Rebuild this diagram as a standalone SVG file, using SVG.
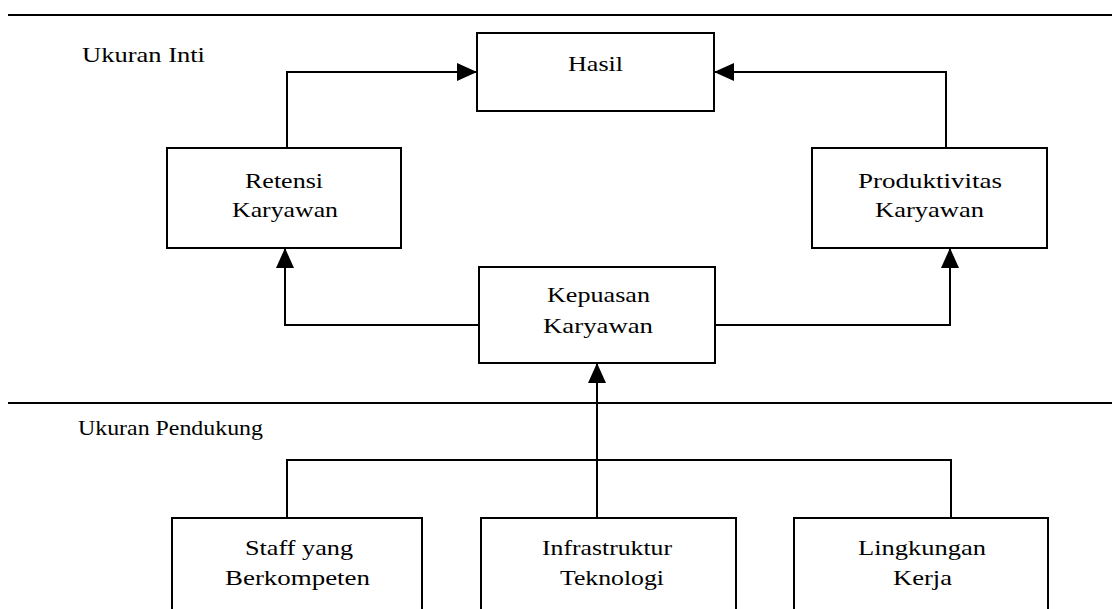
<svg xmlns="http://www.w3.org/2000/svg" width="1115" height="609" viewBox="0 0 1115 609">
<style>
.box{fill:#fff;stroke:#000;stroke-width:2}
.rule{stroke:#000;stroke-width:2}
.ln{fill:none;stroke:#000;stroke-width:2}
text{font-family:"Liberation Serif","Times New Roman",serif;font-size:21px;fill:#000}
</style>
<defs>
<marker id="ah" markerUnits="userSpaceOnUse" markerWidth="20" markerHeight="18" refX="20" refY="9" orient="auto">
<path d="M0,0 L20,9 L0,18 Z" fill="#000"/>
</marker>
</defs>
<rect width="1115" height="609" fill="#fff"/>
<line class="rule" x1="8" y1="15" x2="1112" y2="15"/>
<line class="rule" x1="8" y1="403" x2="1112" y2="403"/>
<text x="82" y="62" textLength="123" lengthAdjust="spacingAndGlyphs">Ukuran Inti</text>
<text x="78" y="435" textLength="185" lengthAdjust="spacingAndGlyphs">Ukuran Pendukung</text>
<g id="connectors">
<polyline class="ln" points="287,148 287,72 477,72" marker-end="url(#ah)"/>
<polyline class="ln" points="946,148 946,72 714,72" marker-end="url(#ah)"/>
<polyline class="ln" points="479,325 285,325 285,248" marker-end="url(#ah)"/>
<polyline class="ln" points="715,325 950,325 950,248" marker-end="url(#ah)"/>
<line class="ln" x1="597" y1="518" x2="597" y2="363" marker-end="url(#ah)"/>
<polyline class="ln" points="287,518 287,460 951,460 951,518"/>
</g>
<g id="hasil">
<rect class="box" x="477" y="33" width="237" height="78"/>
<text x="568" y="71" textLength="55" lengthAdjust="spacingAndGlyphs">Hasil</text>
</g>
<g id="retensi">
<rect class="box" x="167" y="148" width="234" height="100"/>
<text x="245" y="188" textLength="78" lengthAdjust="spacingAndGlyphs">Retensi</text>
<text x="232" y="217" textLength="106" lengthAdjust="spacingAndGlyphs">Karyawan</text>
</g>
<g id="produktivitas">
<rect class="box" x="812" y="148" width="235" height="100"/>
<text x="858" y="188" textLength="144" lengthAdjust="spacingAndGlyphs">Produktivitas</text>
<text x="875" y="217" textLength="109" lengthAdjust="spacingAndGlyphs">Karyawan</text>
</g>
<g id="kepuasan">
<rect class="box" x="479" y="267" width="236" height="96"/>
<text x="547" y="302" textLength="103" lengthAdjust="spacingAndGlyphs">Kepuasan</text>
<text x="543" y="333" textLength="110" lengthAdjust="spacingAndGlyphs">Karyawan</text>
</g>
<g id="staff">
<rect class="box" x="172" y="518" width="250" height="110"/>
<text x="245" y="555" textLength="108" lengthAdjust="spacingAndGlyphs">Staff yang</text>
<text x="225" y="585" textLength="145" lengthAdjust="spacingAndGlyphs">Berkompeten</text>
</g>
<g id="infrastruktur">
<rect class="box" x="481" y="518" width="255" height="110"/>
<text x="542" y="555" textLength="130" lengthAdjust="spacingAndGlyphs">Infrastruktur</text>
<text x="560" y="585" textLength="104" lengthAdjust="spacingAndGlyphs">Teknologi</text>
</g>
<g id="lingkungan">
<rect class="box" x="794" y="518" width="254" height="110"/>
<text x="858" y="555" textLength="128" lengthAdjust="spacingAndGlyphs">Lingkungan</text>
<text x="893" y="585" textLength="59" lengthAdjust="spacingAndGlyphs">Kerja</text>
</g>
</svg>
